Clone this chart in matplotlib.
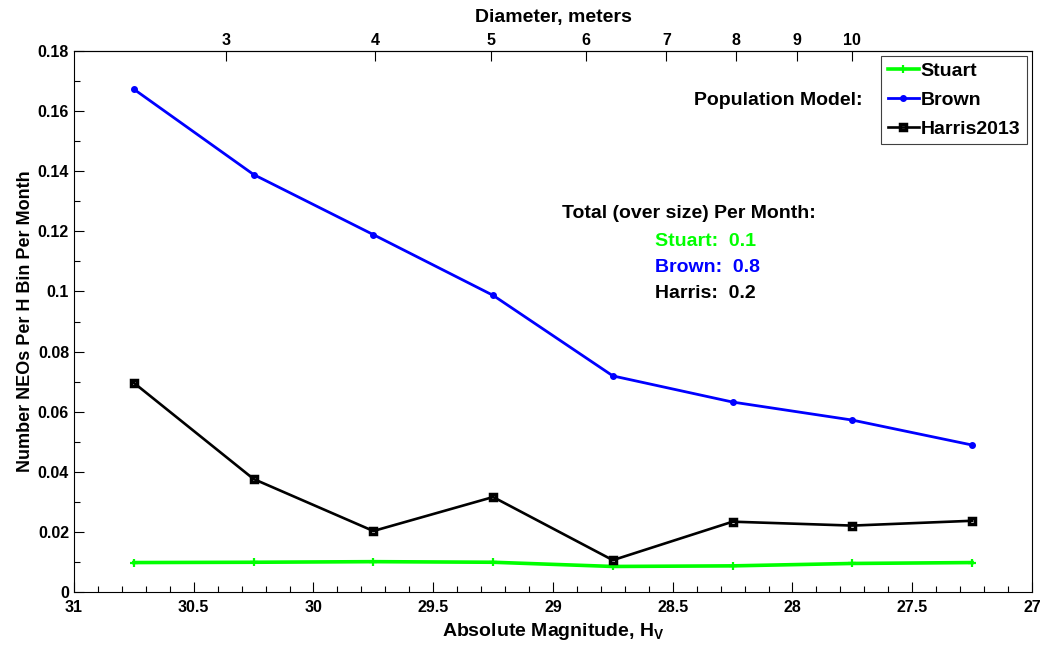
import numpy as np
import matplotlib
matplotlib.use("Agg")
import matplotlib.pyplot as plt
from matplotlib.ticker import FormatStrFormatter, MultipleLocator, FixedLocator

plt.rcParams["font.family"] = ["Liberation Sans", "DejaVu Sans"]
plt.rcParams["font.weight"] = "bold"
plt.rcParams["mathtext.fontset"] = "custom"
plt.rcParams["mathtext.rm"] = "Liberation Sans:bold"

# absolute magnitude bin centres
h_bins = [30.75, 30.25, 29.75, 29.25, 28.75, 28.25, 27.75, 27.25]
stuart = [0.0098, 0.0099, 0.0101, 0.0099, 0.0085, 0.0087, 0.0095, 0.0098]
brown = [0.1673, 0.1389, 0.1189, 0.0987, 0.0719, 0.0632, 0.0572, 0.0489]
harris = [0.0696, 0.0376, 0.0203, 0.0316, 0.0106, 0.0234, 0.0221, 0.0237]

totals = [("Stuart:  0.1", "#00ff00"), ("Brown:  0.8", "#0000ff"), ("Harris:  0.2", "black")]
diam_ticks = [3, 4, 5, 6, 7, 8, 9, 10]
ALBEDO = 0.14


def h_to_d(h):
    # diameter in meters
    return 1329e3 / np.sqrt(ALBEDO) * 10 ** (-np.asarray(h, dtype=float) / 5)


def d_to_h(d):
    d = np.clip(np.asarray(d, dtype=float), 1e-6, None)
    return 5 * np.log10(1329e3 / (np.sqrt(ALBEDO) * d))


fig = plt.figure(figsize=(10.52, 6.48), dpi=100)
ax = fig.add_axes([0.0703, 0.0864, 0.9107, 0.8349])

ax.plot(h_bins, stuart, color="#00ff00", lw=2.6, marker="+", ms=6, mew=1.6, label="Stuart")
ax.plot(h_bins, brown, color="#0000ff", lw=2, marker=".", ms=8, label="Brown")
ax.plot(h_bins, harris, color="black", lw=1.9, marker="s", ms=4.5, mfc="none", mew=2.5,
        label="Harris2013")

ax.set_xlim(31, 27)
ax.set_ylim(0, 0.18)
ax.xaxis.set_major_locator(MultipleLocator(0.5))
ax.xaxis.set_minor_locator(MultipleLocator(0.1))
ax.yaxis.set_major_locator(MultipleLocator(0.02))
ax.yaxis.set_minor_locator(MultipleLocator(0.01))
ax.xaxis.set_major_formatter(FormatStrFormatter("%g"))
ax.yaxis.set_major_formatter(FormatStrFormatter("%g"))
ax.tick_params(which="both", direction="in", labelsize=11.5, top=False, right=False)
ax.tick_params(axis="x", pad=6)
ax.tick_params(axis="y", pad=3.5)
ax.tick_params(which="major", length=7, width=0.8)
ax.tick_params(which="minor", length=4, width=0.8)
for s in ax.spines.values():
    s.set_linewidth(0.8)

ax.set_xlabel("Absolute Magnitude, H$_{\\mathrm{V}}$", fontsize=14, fontweight="bold", labelpad=4)
ax.set_ylabel("Number NEOs Per H Bin Per Month", fontsize=13, fontweight="bold", labelpad=3)

top = ax.secondary_xaxis("top", functions=(h_to_d, d_to_h))
top.xaxis.set_major_locator(FixedLocator(diam_ticks))
top.xaxis.set_minor_locator(FixedLocator([]))
top.xaxis.set_major_formatter(FormatStrFormatter("%g"))
top.tick_params(direction="in", length=7, width=0.8, labelsize=11.5, pad=2)
top.set_xlabel("Diameter, meters", fontsize=14, fontweight="bold", labelpad=8)

leg = ax.legend(loc="upper right", fontsize=14, handlelength=1.6, handletextpad=0.1,
                borderpad=0.35, labelspacing=0.57, borderaxespad=0.25, fancybox=False,
                framealpha=1)
leg.get_frame().set_edgecolor("#404040")
leg.get_frame().set_linewidth(0.8)

ax.text(0.8235, 0.9076, "Population Model:", transform=ax.transAxes, ha="right", va="center",
        fontsize=14, fontweight="bold")

ax.text(0.642, 0.699, "Total (over size) Per Month:", transform=ax.transAxes, ha="center",
        va="center", fontsize=14, fontweight="bold")
for i, (txt, col) in enumerate(totals):
    ax.text(0.6065, 0.647 - i * 0.048, txt, transform=ax.transAxes, ha="left", va="center",
            fontsize=14, fontweight="bold", color=col)

fig.savefig("out.png", dpi=100)
